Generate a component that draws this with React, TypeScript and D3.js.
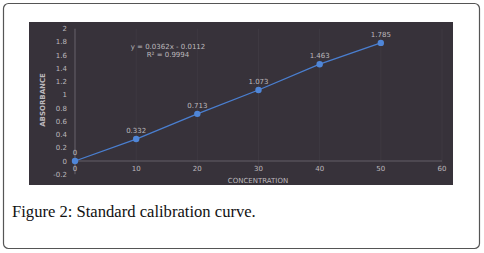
import React from "react";
import * as d3 from "d3";

const concentration = [0, 10, 20, 30, 40, 50];
const absorbance = [0, 0.332, 0.713, 1.073, 1.463, 1.785];
const pointLabels = ["0", "0.332", "0.713", "1.073", "1.463", "1.785"];
const yTicks = [-0.2, 0, 0.2, 0.4, 0.6, 0.8, 1, 1.2, 1.4, 1.6, 1.8, 2];
const xTicks = [0, 10, 20, 30, 40, 50, 60];
const equationLines = ["y = 0.0362x - 0.0112", "R² = 0.9994"];
const caption = "Figure 2: Standard calibration curve.";

export default function App() {
  const W = 484, H = 253;
  const x = d3.scaleLinear().domain([0, 60]).range([75, 442]);
  const y = d3.scaleLinear().domain([0, 2]).range([161, 28.7]);
  const line = d3.line<number>().x((_, i) => x(concentration[i])).y((d) => y(d));
  const txt = "#bdb9bd";
  const font = "'DejaVu Sans', sans-serif";
  const fmt = (t: number) => String(+t.toFixed(1));
  return (
    <svg width={W} height={H} style={{ position: "absolute", left: 0, top: 0, background: "#fff" }}>
      <rect x={3.5} y={3.5} width={476} height={245} rx={5} fill="#fff" stroke="#555" strokeWidth={1.2} />
      <rect x={29} y={22} width={424} height={163} fill="#37323a" />
      {xTicks.map((t) => (
        <line key={"gx" + t} x1={x(t)} x2={x(t)} y1={y(2)} y2={y(-0.2)} stroke="#433e47" strokeWidth={0.6} />
      ))}
      <line x1={x(0)} x2={x(60)} y1={y(0)} y2={y(0)} stroke="#6f6b75" strokeWidth={0.8} />
      <line x1={x(0)} x2={x(0)} y1={y(2)} y2={y(-0.2)} stroke="#6f6b75" strokeWidth={0.8} />
      {yTicks.map((t) => (
        <text key={"y" + t} x={67} y={y(t) + 2.5} textAnchor="end" fontSize={7} fill={txt} fontFamily={font}>
          {fmt(t)}
        </text>
      ))}
      {xTicks.map((t) => (
        <text key={"x" + t} x={x(t)} y={171} textAnchor="middle" fontSize={7} fill={txt} fontFamily={font}>
          {t}
        </text>
      ))}
      <text x={258} y={183} textAnchor="middle" fontSize={7} fill={txt} fontFamily={font}>CONCENTRATION</text>
      <text transform={`translate(45,100) rotate(-90)`} textAnchor="middle" fontSize={7} fill={txt} fontFamily={font} fontWeight="bold">ABSORBANCE</text>
      {equationLines.map((l, i) => (
        <text key={l} x={168} y={49 + i * 7.5} textAnchor="middle" fontSize={7} fill={txt} fontFamily={font}>{l}</text>
      ))}
      <path d={line(absorbance) || ""} fill="none" stroke="#4a7fd0" strokeWidth={1.3} />
      {absorbance.map((v, i) => (
        <g key={"p" + i}>
          <circle cx={x(concentration[i])} cy={y(v)} r={3.2} fill="#4f86d8" />
          <text x={x(concentration[i])} y={y(v) - 6} textAnchor="middle" fontSize={7} fill={txt} fontFamily={font}>
            {pointLabels[i]}
          </text>
        </g>
      ))}
      <text x={12} y={217} fontSize={16.6} fill="#111" fontFamily="'Liberation Serif', serif">{caption}</text>
    </svg>
  );
}
